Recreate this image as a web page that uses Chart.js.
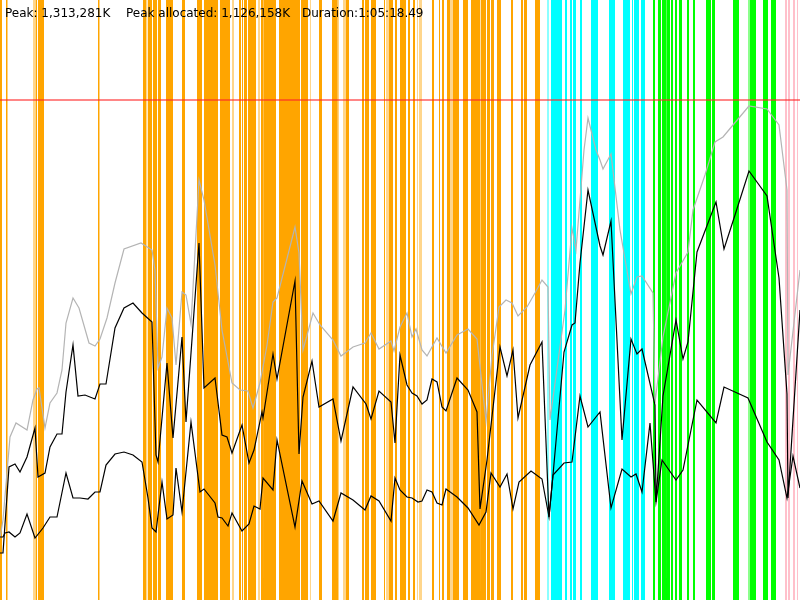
<!DOCTYPE html>
<html>
<head>
<meta charset="utf-8">
<script src="https://cdn.jsdelivr.net/npm/chart.js@4/dist/chart.umd.min.js"></script>
<style>
  html, body { margin: 0; padding: 0; background: #fff; }
  #wrap { position: relative; width: 800px; height: 600px; overflow: hidden; }
  #c { position: absolute; left: 0; top: 0; }
  .lbl { position: absolute; top: 6px; font: 12px "DejaVu Sans", sans-serif; line-height: 14px; color: #000; white-space: nowrap; }
</style>
</head>
<body>
<div id="wrap">
  <canvas id="c" width="800" height="600"></canvas>
  <span class="lbl" style="left:5px">Peak: 1,313,281K</span>
  <span class="lbl" style="left:126px">Peak allocated: 1,126,158K</span>
  <span class="lbl" style="left:302px">Duration:1:05:18.49</span>
</div>
<script>
// time axis: 0..800 sample units; memory axis: 0..600 units (~2.64 MB each)
const timeRange = [0, 800];
const memRange = [0, 600];
const heapLimit = 500;

// total heap size (gray)
const totalHeap = [[0,62],[3,80],[10,163],[16,177],[27,170],[33,200],[37,211],[39,212],[45,172],[50,197],[57,207],[62,230],[66,277],[73,302],[79,292],[89,257],[95,254],[100,261],[107,282],[115,317],[124,351],[141,357],[152,350],[155,330],[158,232],[162,243],[167,292],[172,282],[176,235],[182,308],[186,305],[191,276],[199,420],[204,400],[215,335],[222,270],[232,217],[240,210],[248,209],[253,192],[260,217],[267,255],[273,298],[277,302],[295,373],[299,347],[303,250],[313,287],[320,275],[333,260],[341,244],[353,253],[365,257],[371,267],[379,251],[391,259],[394,249],[400,273],[407,287],[412,263],[416,271],[422,250],[427,244],[437,262],[446,247],[457,265],[468,271],[477,261],[486,179],[492,244],[499,293],[506,300],[512,297],[518,284],[527,293],[535,307],[542,320],[548,313],[550,180],[565,290],[572,372],[576,350],[584,450],[588,482],[596,450],[600,440],[603,431],[611,446],[620,370],[631,306],[637,323],[642,324],[653,307],[655,197],[663,263],[676,327],[688,348],[693,390],[705,425],[715,458],[723,463],[733,475],[749,494],[767,491],[779,475],[787,410],[788,225],[800,330]];

// used memory before collection (black, upper)
const usedBefore = [[0,47],[3,47],[9,133],[15,136],[20,128],[27,143],[35,172],[38,123],[45,127],[50,153],[57,166],[62,166],[66,208],[73,255],[78,204],[85,205],[95,201],[100,216],[106,216],[115,272],[124,292],[133,297],[142,287],[152,278],[156,145],[158,138],[167,237],[173,162],[182,263],[186,178],[199,357],[204,212],[215,222],[222,165],[227,163],[232,147],[242,175],[249,137],[254,150],[262,188],[263,182],[273,246],[277,221],[295,319],[299,146],[303,203],[312,239],[319,193],[333,201],[341,159],[353,213],[366,196],[371,181],[379,209],[391,198],[395,157],[400,245],[407,215],[412,207],[417,204],[422,196],[427,200],[432,221],[437,218],[442,193],[446,189],[457,222],[468,210],[477,188],[480,91],[487,140],[500,253],[507,224],[513,250],[518,182],[530,235],[542,258],[549,83],[553,125],[564,248],[572,275],[575,277],[580,337],[588,410],[600,354],[603,345],[611,379],[622,160],[631,261],[637,246],[642,251],[655,195],[656,98],[663,204],[676,280],[683,241],[688,258],[697,348],[716,398],[724,351],[735,385],[749,429],[767,404],[779,322],[787,206],[788,102],[800,290]];

// used memory after collection (black, lower)
const usedAfter = [[0,63],[3,63],[5,67],[9,68],[15,63],[20,67],[27,86],[35,62],[43,72],[50,83],[57,83],[66,127],[73,102],[80,102],[88,101],[95,108],[100,108],[106,135],[115,146],[124,148],[133,145],[142,138],[148,102],[152,72],[156,68],[162,118],[167,81],[173,85],[176,132],[182,88],[191,178],[200,108],[204,111],[215,97],[218,83],[222,82],[228,74],[232,87],[242,69],[249,76],[254,94],[260,91],[263,122],[273,110],[277,160],[295,73],[302,119],[312,96],[319,99],[333,79],[341,107],[353,100],[365,90],[371,104],[379,99],[391,79],[395,122],[400,110],[407,103],[412,102],[418,98],[422,99],[427,110],[432,108],[437,97],[442,95],[446,111],[457,103],[468,92],[479,75],[486,88],[491,127],[500,113],[507,126],[513,91],[519,118],[531,129],[542,121],[549,83],[553,125],[564,137],[572,138],[580,204],[588,173],[600,188],[611,92],[622,131],[631,123],[636,126],[642,108],[650,177],[656,98],[662,140],[676,120],[683,130],[697,200],[716,177],[724,213],[748,202],[767,158],[779,140],[787,102],[793,144],[800,112]];

// collection events (start, end) by kind
const orangeEvents = [[0,2],[6,7.5],[35.5,37],[38,44],[98,99.5],[143,146],[148,152],[153,157],[158,161],[166,173],[182,185],[197,202],[204,218],[220,230],[231,232],[239,241],[242,243],[244,247],[248,256],[261,263],[263.5,276],[279,300],[301,308],[319,322],[332,337],[337.5,338.5],[346,349],[362,364],[365,369],[371,376],[384,385],[389,393],[395,397],[400,406],[408,410],[413,415],[432,434],[439,440],[442,444],[447,450],[453,459],[463,468],[471,480],[481,486],[487,490],[491,494],[497,501],[511,513],[521,523],[524,527],[535,540]];
const orangeFaint = [[33,35],[146,147.5],[232,234],[258,260],[310,311],[343,346],[386,389],[417,418],[419,422],[450,453]];
const cyanEvents = [[551,562],[565,567],[570,572],[573,576],[580,582],[591,598],[609,615],[623,630],[632,633],[634,639],[641,645]];
const cyanFaint = [[547,549]];
const greenEvents = [[653,655],[658,661],[662,666],[666.5,670],[671,673],[675,677],[679,682],[687,689],[693,695],[706,711],[712,715],[733,739],[750,756],[763,768],[771,776]];
const greenFaint = [[748,750]];
const pinkEvents = [[785,787],[788,790],[793,795],[797,798]];

function pts(arr) { return arr.map(([x, y]) => ({ x, y })); }
function bands(list) {
  const out = [];
  list.forEach(([a, b]) => {
    out.push({ x: a, y: memRange[0] }, { x: a, y: memRange[1] }, { x: b, y: memRange[1] }, { x: b, y: memRange[0] });
  });
  return out;
}
function lineDs(data, color, width, order) {
  return { data: pts(data), borderColor: color, borderWidth: width, pointRadius: 0, tension: 0, fill: false, order };
}
function bandDs(list, color, order) {
  return { data: bands(list), borderWidth: 0, borderColor: 'transparent', backgroundColor: color, pointRadius: 0, tension: 0, fill: 'origin', order };
}

new Chart(document.getElementById('c'), {
  type: 'line',
  data: {
    datasets: [
      lineDs(usedAfter, '#000000', 1.2, 1),
      lineDs(usedBefore, '#000000', 1.2, 2),
      lineDs(totalHeap, '#b4b4b4', 1.2, 3),
      lineDs([[timeRange[0], heapLimit], [timeRange[1], heapLimit]], 'rgba(255,40,40,0.75)', 1.5, 4),
      bandDs(orangeEvents, '#ffa500', 10),
      bandDs(orangeFaint, 'rgba(255,165,0,0.45)', 11),
      bandDs(cyanEvents, '#00ffff', 12),
      bandDs(cyanFaint, 'rgba(0,255,255,0.45)', 13),
      bandDs(greenEvents, '#00ff00', 14),
      bandDs(greenFaint, 'rgba(0,255,0,0.45)', 15),
      bandDs(pinkEvents, '#ffc0cb', 16)
    ]
  },
  options: {
    responsive: false,
    animation: false,
    devicePixelRatio: 1,
    layout: { padding: 0 },
    plugins: { legend: { display: false }, tooltip: { enabled: false }, title: { display: false } },
    scales: {
      x: { type: 'linear', min: timeRange[0], max: timeRange[1], display: false },
      y: { type: 'linear', min: memRange[0], max: memRange[1], display: false }
    }
  }
});
</script>
</body>
</html>
